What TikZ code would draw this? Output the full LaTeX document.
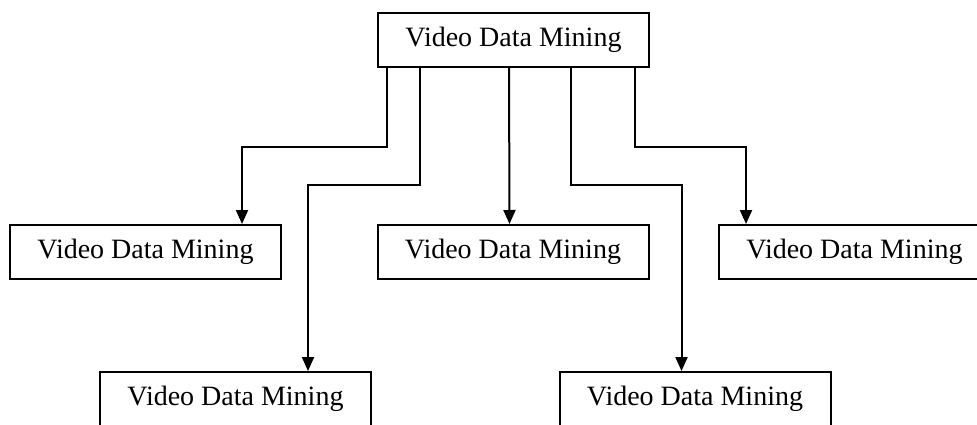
\documentclass[tikz,border=0pt]{standalone}
\usepackage{fontspec}
\setmainfont{Liberation Serif}
\usetikzlibrary{arrows.meta,calc}
\tikzset{
  box/.style={draw, line width=1pt, minimum width=135.5pt, minimum height=27pt,
    inner sep=0pt, font=\fontsize{14}{16}\selectfont},
  link/.style={line width=1pt, -{Triangle[width=6pt,length=7pt]}}
}
\begin{document}
\begin{tikzpicture}[x=0.5pt,y=0.5pt]
\clip (0,0) rectangle (977,424);
% Define the boxes
\node[box] (root) at (513.5,384) {Video Data Mining};
\node[box] (left) at (145.5,172) {Video Data Mining};
\node[box] (middle) at (513,172) {Video Data Mining};
\node[box] (right) at (854.5,172) {Video Data Mining};
\node[box] (lowleft) at (235.5,25) {Video Data Mining};
\node[box] (lowright) at (695,25) {Video Data Mining};
% Heights of the horizontal runs
\coordinate (upper) at ($(root.south)+(0,-79)$);
\coordinate (lower) at ($(root.south)+(0,-117)$);
% Where the arrows meet the boxes
\coordinate (inleft) at ($(left.north west)+(233,0)$);
\coordinate (inlowleft) at ($(lowleft.north west)+(209,0)$);
\coordinate (inmiddle) at ($(middle.north west)+(133,0)$);
\coordinate (inlowright) at ($(lowright.north west)+(123,0)$);
\coordinate (inright) at ($(right.north west)+(28,0)$);
% Draw the connectors
\draw[link] ($(root.south west)+(10,0)$) |- (inleft |- upper) -- (inleft);
\draw[link] ($(root.south west)+(43,0)$) |- (inlowleft |- lower) -- (inlowleft);
\draw[link] ($(root.south west)+(132,0)$) -- (inmiddle);
\draw[link] ($(root.south west)+(194,0)$) |- (inlowright |- lower) -- (inlowright);
\draw[link] ($(root.south west)+(258,0)$) |- (inright |- upper) -- (inright);
\end{tikzpicture}
\end{document}
